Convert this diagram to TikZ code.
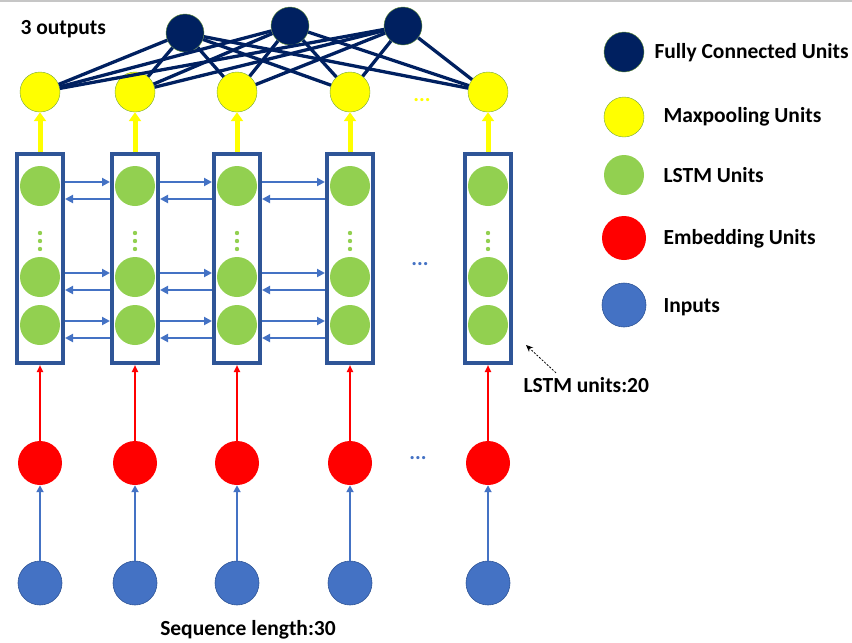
\documentclass[tikz,border=0pt]{standalone}
\usepackage{fontspec}
\setmainfont{Carlito}
\usetikzlibrary{arrows.meta,calc}
\definecolor{fcblue}{HTML}{002060}
\definecolor{lstmgreen}{HTML}{92D050}
\definecolor{inblue}{HTML}{4472C4}
\definecolor{boxblue}{HTML}{2F5597}
\definecolor{poolyellow}{HTML}{FFFF00}
\tikzset{
  unit/.style={circle,minimum size=40pt,inner sep=0pt},
  fcunit/.style={unit,minimum size=38pt,fill=fcblue,draw=lstmgreen!70!black,line width=0.4pt},
  poolunit/.style={unit,fill=poolyellow,draw=lstmgreen!80!black,line width=0.4pt},
  lstmunit/.style={unit,fill=lstmgreen},
  embunit/.style={unit,minimum size=44pt,fill=red},
  inunit/.style={unit,minimum size=44pt,fill=inblue,draw=boxblue,line width=0.6pt},
  lstmbox/.style={draw=boxblue,line width=4pt,minimum width=46pt,minimum height=209pt,inner sep=0pt},
  lbl/.style={font=\fontsize{21.5}{25}\selectfont\bfseries},
  fcline/.style={fcblue,line width=3.3pt},
  harrow/.style={inblue,line width=2.6pt,-{Triangle[length=8pt,width=8pt]}},
  poolarrow/.style={poolyellow,line width=5pt,-{Triangle[length=9pt,width=12pt]}},
  embarrow/.style={red,line width=2pt,-{Triangle[length=7pt,width=6pt]}},
  inarrow/.style={inblue,line width=2.5pt,-{Triangle[length=7pt,width=7pt]}}
}
\begin{document}
\begin{tikzpicture}[x=1pt,y=-1pt]
\useasboundingbox (0,0) rectangle (852,643);
\draw[gray!45,line width=1.5pt] (0,1) -- (852,1);

% columns of the sequence
\foreach \x/\i in {40/1,135/2,237/3,350/4,488/5}{
  \node[lstmbox] (b\i) at (\x,258.5) {};
  \node[lstmunit] (ga\i) at (\x,186) {};
  \node[lstmunit] (gb\i) at (\x,277) {};
  \node[lstmunit] (gc\i) at (\x,325) {};
  \fill[lstmgreen] (\x,233) circle (2.2) (\x,241) circle (2.2) (\x,249) circle (2.2);
  \node[poolunit] (p\i) at (\x,92) {};
  \node[embunit] (e\i) at (\x,463) {};
  \node[inunit] (i\i) at (\x,583) {};
  \draw[poolarrow] (b\i.north) -- (p\i.south);
  \draw[embarrow] (e\i.north) -- (b\i.south);
  \draw[inarrow] (i\i.north) -- (e\i.south);
}

% links between neighbouring LSTM columns
\foreach \i/\j in {1/2,2/3,3/4}{
  \foreach \g in {ga,gb,gc}{
    \draw[harrow] ($(b\i.east |- \g\i)+(0,-4)$) -- ($(b\j.west |- \g\i)+(0,-4)$);
    \draw[harrow] ($(b\j.west |- \g\i)+(0,13)$) -- ($(b\i.east |- \g\i)+(0,13)$);
  }
}

% fully connected layer
\node[fcunit] (f1) at (185,33) {};
\node[fcunit] (f2) at (290,26) {};
\node[fcunit] (f3) at (403,26) {};
\foreach \f in {1,2,3}
  \foreach \i in {1,...,5}
    \draw[fcline] (f\f) -- (p\i);

\node[lbl,anchor=west] (outs) at (17,29) {3 outputs};
\node[lbl,text=poolyellow] (pdots) at (422,100) {...};
\node[lbl,text=inblue] (gdots) at (420,264) {...};
\node[lbl,text=inblue] (edots) at (418,458) {...};
\node[lbl] (seq) at (248,630) {Sequence length:30};
\node[lbl,anchor=west] (lstmlbl) at (520,385) {LSTM units:20};
\coordinate (lstmtip) at (526,345);
\draw[dash pattern=on 2pt off 1.5pt,line width=0.8pt,-{Stealth[length=7pt,width=6pt]}] ($(lstmlbl.north west)+(36,-1)$) -- (lstmtip);

% legend
\node[fcunit,minimum size=40pt] (kfc) at (624,52) {};
\node[poolunit] (kpool) at (624,117) {};
\node[lstmunit] (klstm) at (624,175) {};
\node[embunit] (kemb) at (624,238) {};
\node[inunit] (kin) at (624,305) {};
\node[lbl,anchor=west] at (651,53) {Fully Connected Units};
\node[lbl,anchor=west] at (660,117) {Maxpooling Units};
\node[lbl,anchor=west] at (660,175) {LSTM Units};
\node[lbl,anchor=west] at (660,239) {Embedding Units};
\node[lbl,anchor=west] at (660,307) {Inputs};
\end{tikzpicture}
\end{document}
